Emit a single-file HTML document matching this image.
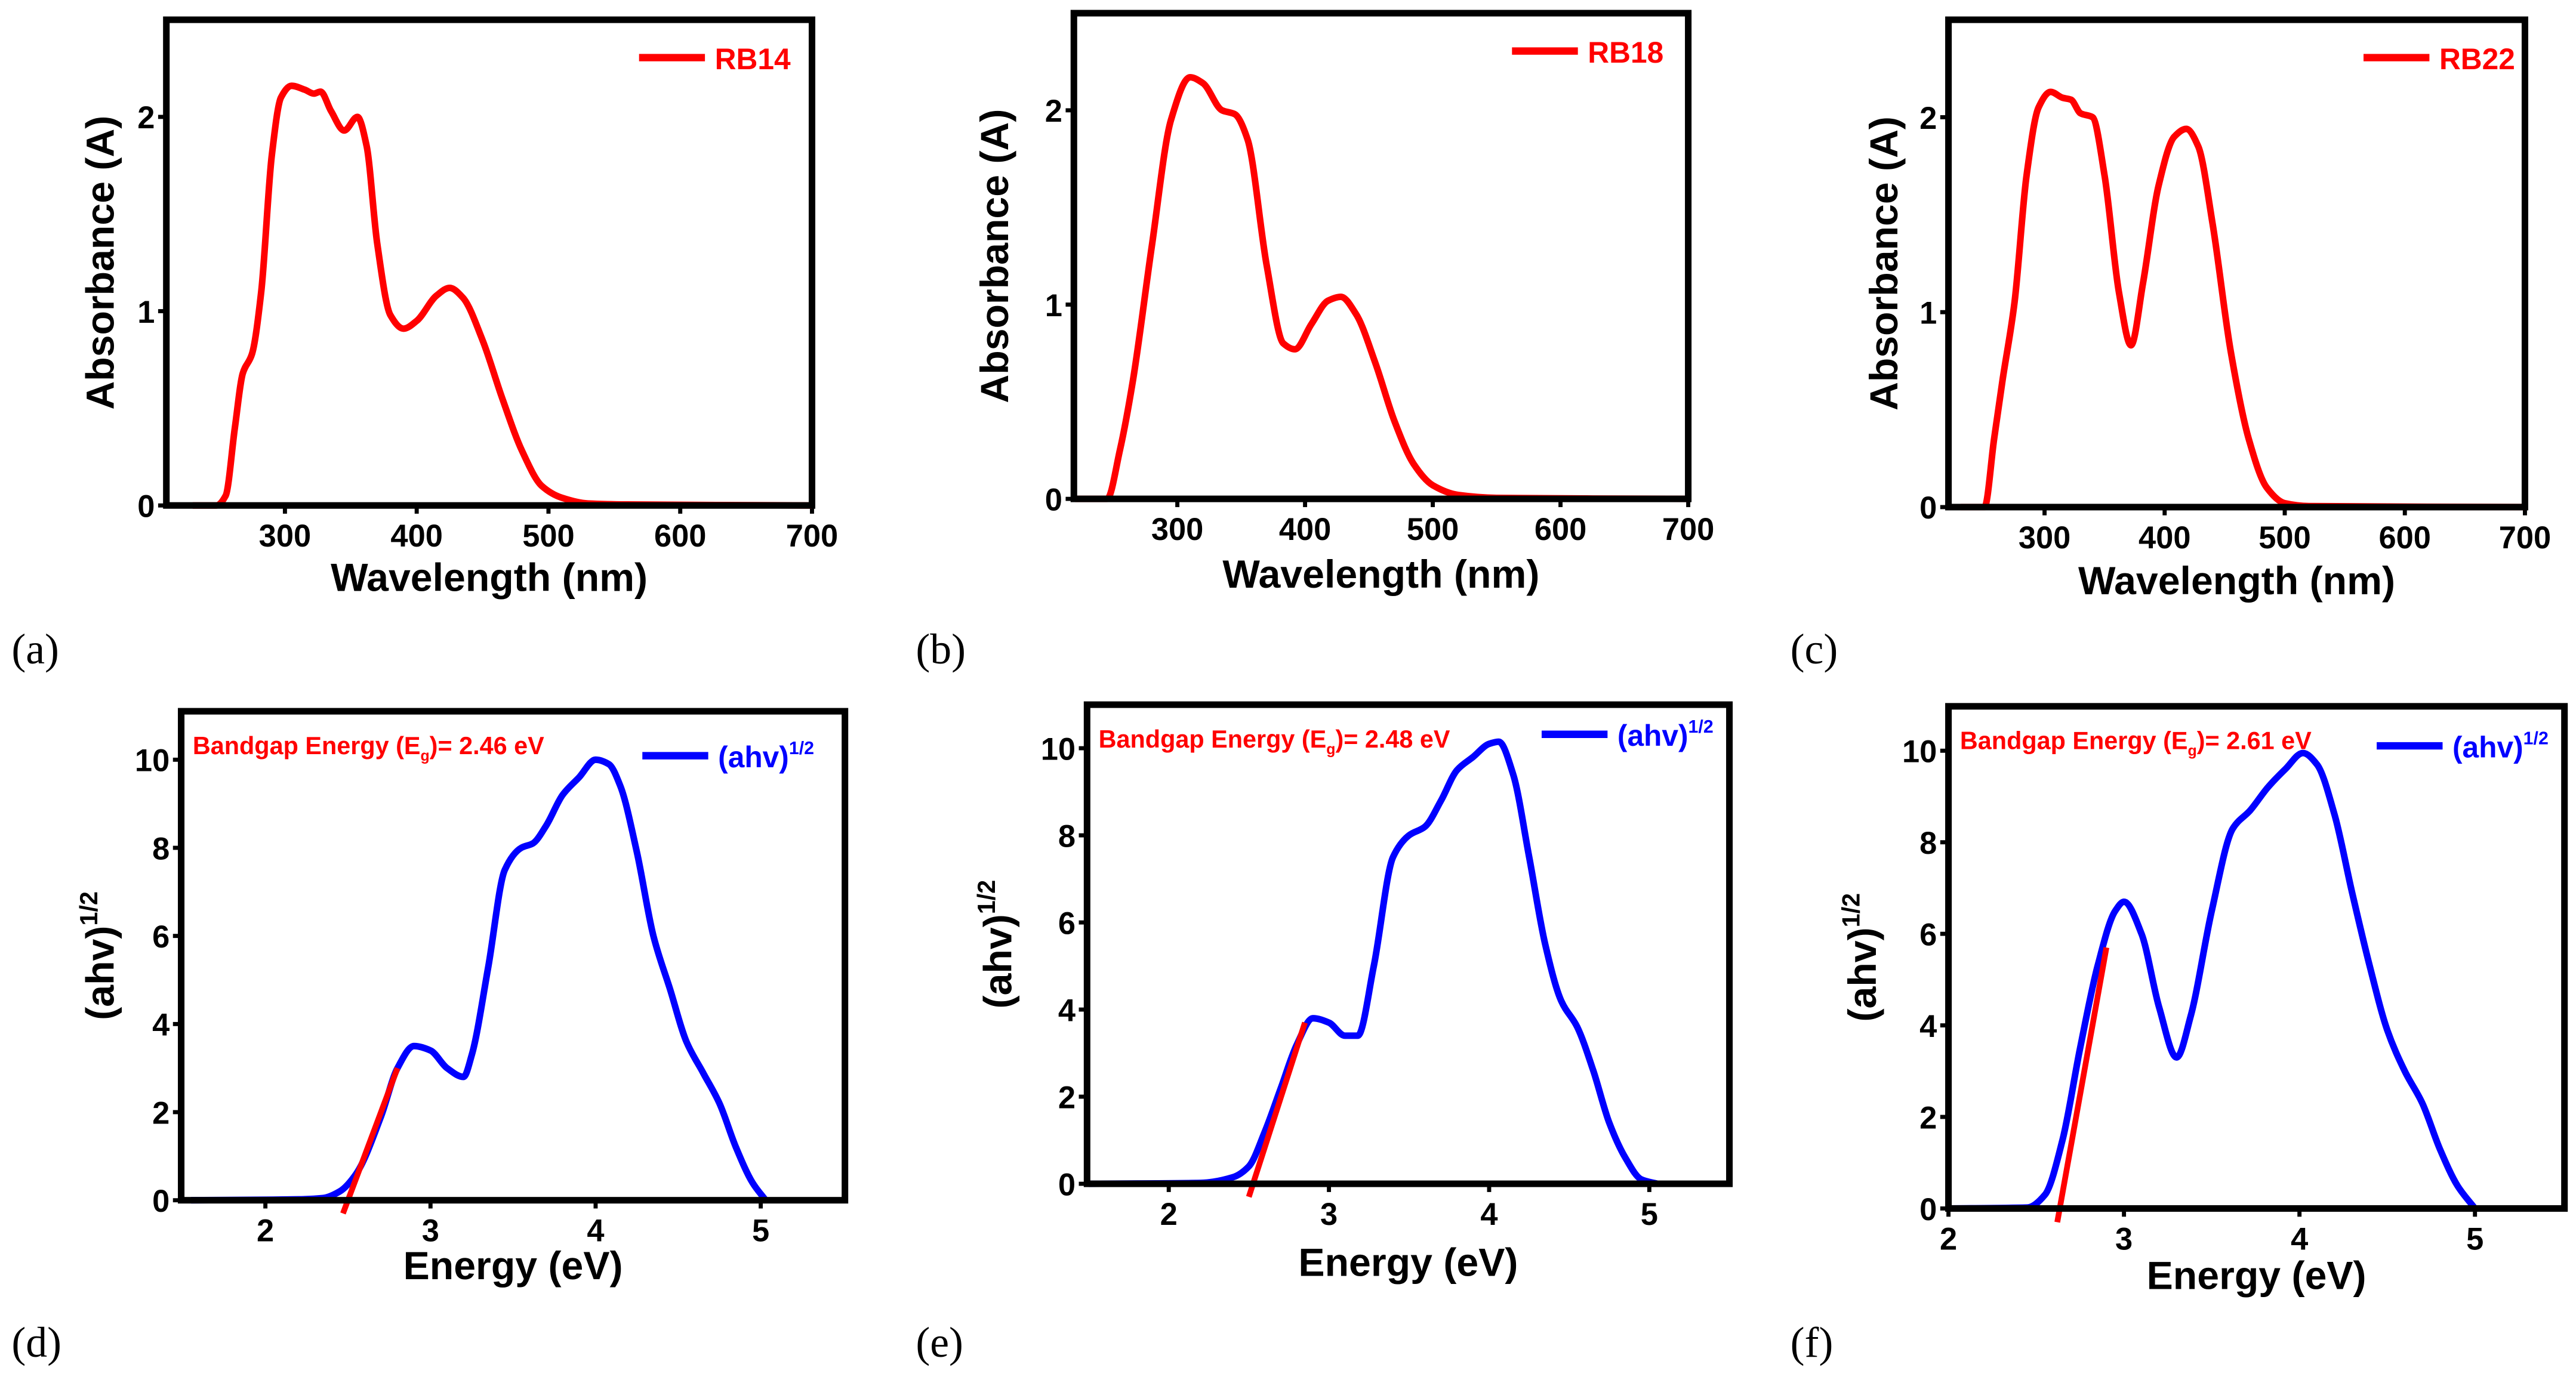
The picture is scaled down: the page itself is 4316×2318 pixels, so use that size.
<!DOCTYPE html>
<html><head><meta charset="utf-8"><style>
html,body{margin:0;padding:0;background:#fff;}
svg{display:block;}
text{font-family:"Liberation Sans",Arial,sans-serif;font-weight:bold;}
</style></head><body>
<svg id="fig" width="4316" height="2318" viewBox="0 0 1564 840" preserveAspectRatio="none" xmlns="http://www.w3.org/2000/svg"></svg>
<script>
// ---- data ----
const absA_x=[230,248,255,262,268,275,282,290,297,305,315,322,327,335,345,355,362,370,380,390,400,415,425,435,450,465,480,495,510,530,560,700];
const absA_y=[0,0,0.05,0.4,0.68,0.78,1.1,1.8,2.1,2.16,2.14,2.12,2.13,2.03,1.93,2.0,1.85,1.35,0.98,0.91,0.95,1.08,1.12,1.07,0.85,0.55,0.28,0.1,0.04,0.01,0.005,0];
const absB_x=[220,245,255,265,280,295,310,320,335,345,355,370,383,392,405,418,428,440,455,470,485,500,520,550,700];
const absB_y=[0,0,0.25,0.6,1.3,1.95,2.17,2.14,2.0,1.98,1.85,1.2,0.8,0.77,0.9,1.02,1.04,0.95,0.7,0.4,0.18,0.07,0.02,0.005,0];
const absC_x=[230,250,258,265,275,285,295,305,315,322,330,340,350,362,372,382,395,408,418,428,440,455,470,485,500,520,700];
const absC_y=[0,0,0.35,0.65,1.05,1.7,2.05,2.13,2.1,2.09,2.02,2.0,1.7,1.1,0.83,1.15,1.65,1.9,1.94,1.85,1.45,0.8,0.35,0.1,0.02,0.005,0];
const tauD_x=[1.55,2.2,2.35,2.45,2.55,2.7,2.8,2.9,3.0,3.1,3.2,3.25,3.35,3.45,3.55,3.62,3.7,3.8,3.9,4.0,4.08,4.15,4.25,4.35,4.45,4.55,4.65,4.75,4.85,4.95,5.03];
const tauD_y=[0,0.02,0.05,0.2,0.6,1.9,3.0,3.5,3.4,3.0,2.8,3.3,5.3,7.5,8.0,8.1,8.5,9.2,9.6,10.0,9.9,9.4,7.9,6.0,4.8,3.6,2.9,2.2,1.2,0.4,0];
const tauE_x=[1.5,2.2,2.4,2.5,2.6,2.7,2.8,2.9,3.0,3.1,3.18,3.28,3.4,3.5,3.6,3.7,3.8,3.9,4.0,4.06,4.15,4.25,4.35,4.45,4.55,4.65,4.75,4.85,4.95,5.05];
const tauE_y=[0,0.02,0.15,0.4,1.2,2.2,3.2,3.8,3.7,3.4,3.4,5.0,7.5,8.0,8.2,8.8,9.5,9.8,10.1,10.15,9.4,7.5,5.5,4.2,3.6,2.6,1.4,0.6,0.1,0];
const tauF_x=[2.0,2.45,2.55,2.65,2.75,2.85,2.95,3.0,3.1,3.2,3.3,3.38,3.5,3.62,3.72,3.82,3.92,4.02,4.1,4.2,4.3,4.4,4.5,4.6,4.7,4.8,4.9,5.0];
const tauF_y=[0,0.02,0.3,1.5,3.5,5.3,6.5,6.7,6.0,4.4,3.3,4.2,6.5,8.3,8.7,9.2,9.6,9.95,9.7,8.6,6.9,5.3,3.9,3.0,2.3,1.3,0.5,0];
const fitD_x=[2.47,2.8], fitD_y=[-0.3,3.0];
const fitE_x=[2.5,2.85], fitE_y=[-0.3,3.7];
const fitF_x=[2.62,2.9], fitF_y=[-0.3,5.7];
const absTicksX=[300,400,500,600,700], absTicksY=[0,1,2];
const tauTicksX=[2,3,4,5], tauTicksY=[0,2,4,6,8,10];
const labelsABS=["RB14","RB18","RB22"];
const bandgaps=["2.46","2.48","2.61"];
const panelLetters=["(a)","(b)","(c)","(d)","(e)","(f)"];

const NS="http://www.w3.org/2000/svg";
const svg=document.getElementById('fig');
function el(tag,attrs,parent,txt){const e=document.createElementNS(NS,tag);for(const k in attrs)e.setAttribute(k,attrs[k]);if(txt!==undefined)e.textContent=txt;(parent||svg).appendChild(e);return e;}
// monotone cubic (Fritsch-Carlson) in pixel space
function smooth(pts){const n=pts.length;const d=[],m=[];
  for(let i=0;i<n-1;i++){d.push((pts[i+1][1]-pts[i][1])/(pts[i+1][0]-pts[i][0]));}
  m[0]=d[0];m[n-1]=d[n-2];
  for(let i=1;i<n-1;i++){if(d[i-1]*d[i]<=0)m[i]=0;else{const h0=pts[i][0]-pts[i-1][0],h1=pts[i+1][0]-pts[i][0];const w1=2*h1+h0,w2=h1+2*h0;m[i]=(w1+w2)/(w1/d[i-1]+w2/d[i]);}}
  let s="M"+pts[0][0].toFixed(2)+","+pts[0][1].toFixed(2);
  for(let i=0;i<n-1;i++){const h=(pts[i+1][0]-pts[i][0])/3;
    s+=" C"+(pts[i][0]+h).toFixed(2)+","+(pts[i][1]+m[i]*h).toFixed(2)+" "+(pts[i+1][0]-h).toFixed(2)+","+(pts[i+1][1]-m[i+1]*h).toFixed(2)+" "+pts[i+1][0].toFixed(2)+","+pts[i+1][1].toFixed(2);}
  return s;}

function panel(cfg){
  const g=el('g',{});
  
  
  const sx=v=>cfg.L+(v-cfg.xmin)/(cfg.xmax-cfg.xmin)*(cfg.R-cfg.L);
  const sy=v=>cfg.B-(v-cfg.ymin)/(cfg.ymax-cfg.ymin)*(cfg.B-cfg.T);
  cfg.xt.forEach(t=>{const x=sx(t);const l=el('line',{x1:x,x2:x,y1:cfg.B,y2:cfg.B+5,stroke:'#000','stroke-width':2.5},g);
    
    const tx=el('text',{x:x,y:cfg.B+25,'font-size':19,'text-anchor':'middle'},g,t);
    });
  cfg.yt.forEach(t=>{const y=sy(t);const l=el('line',{x1:cfg.L-5,x2:cfg.L,y1:y,y2:y,stroke:'#000','stroke-width':2.5},g);
    
    const tx=el('text',{x:cfg.L-7,y:y+7,'font-size':19,'text-anchor':'end'},g,t);
    });
  const cid='c'+cfg.name;const cp=el('clipPath',{id:cid},g);el('rect',{x:cfg.L,y:cfg.T,width:cfg.R-cfg.L,height:cfg.B-cfg.T+12},cp);
  const p=el('path',{d:smooth(cfg.xs.map((v,i)=>[sx(v),sy(cfg.ys[i])])),fill:'none',stroke:cfg.color,'stroke-width':4,'stroke-linejoin':'round','clip-path':'url(#'+cid+')'},g);
  
  if(cfg.fx){const f=el('line',{x1:sx(cfg.fx[0]),y1:sy(cfg.fy[0]),x2:sx(cfg.fx[1]),y2:sy(cfg.fy[1]),stroke:'#f00','stroke-width':3.5},g);
    }
  const box=el('rect',{x:cfg.L,y:cfg.T,width:cfg.R-cfg.L,height:cfg.B-cfg.T,fill:'none',stroke:'#000','stroke-width':4},g);
  
  const lg=el('line',{x1:cfg.lgx,x2:cfg.lgx+40,y1:cfg.lgy,y2:cfg.lgy,stroke:cfg.color,'stroke-width':4.5},g);
  
  const lt=el('text',{x:cfg.lgx+46,y:cfg.lgy+7,'font-size':18,fill:cfg.color},g);
  
  if(cfg.kind==='abs'){lt.textContent=cfg.leg;}
  else{el('tspan',{},lt,'(ahv)');el('tspan',{dy:-8,'font-size':11},lt,'1/2');}
  const xtitle=el('text',{x:(cfg.L+cfg.R)/2,y:cfg.xly,'font-size':24,'text-anchor':'middle'},g,cfg.kind==='abs'?'Wavelength (nm)':'Energy (eV)');
  
  const yc=(cfg.T+cfg.B)/2;
  const yt=el('text',{x:0,y:0,'font-size':24,'text-anchor':'middle',transform:'translate('+cfg.ylx+','+yc+') rotate(-90)'},g);
  
  if(cfg.kind==='abs')yt.textContent='Absorbance (A)';
  else{el('tspan',{},yt,'(ahv)');el('tspan',{dy:-10,'font-size':15},yt,'1/2');}
  if(cfg.bg){const b=el('text',{x:cfg.L+7,y:cfg.T+26,'font-size':15,fill:'#f00'},g);
    
    el('tspan',{},b,'Bandgap Energy (E');el('tspan',{dy:4,'font-size':9},b,'g');el('tspan',{dy:-4},b,')= '+cfg.bg+' eV');}
  const pl=el('text',{x:cfg.plx,y:cfg.ply,'font-size':26,style:'font-family:"Liberation Serif",serif;font-weight:normal'},g,cfg.letter);
  
}
const A={kind:'abs',color:'#f00',xt:absTicksX,yt:absTicksY,ymin:0,ymax:2.5};
panel(Object.assign({},A,{name:'panel-a',L:101,R:493,T:12,B:307,xmin:210,xmax:700,xs:absA_x,ys:absA_y,lgx:388,lgy:35,leg:labelsABS[0],xly:359,ylx:69,plx:7,ply:403,letter:panelLetters[0]}));
panel(Object.assign({},A,{name:'panel-b',L:652,R:1025,T:8,B:303,xmin:219,xmax:700,xs:absB_x,ys:absB_y,lgx:918,lgy:31,leg:labelsABS[1],xly:357,ylx:612,plx:556,ply:403,letter:panelLetters[1]}));
panel(Object.assign({},A,{name:'panel-c',L:1183,R:1533,T:12,B:308,xmin:220,xmax:700,xs:absC_x,ys:absC_y,lgx:1435,lgy:35,leg:labelsABS[2],xly:361,ylx:1152,plx:1087,ply:403,letter:panelLetters[2]}));
const T={kind:'tau',color:'#00f',yt:tauTicksY,ymin:0};
panel(Object.assign({},T,{name:'panel-d',L:110,R:513,T:432,B:729,xmin:1.49,xmax:5.51,ymax:11.1,xt:tauTicksX,xs:tauD_x,ys:tauD_y,fx:fitD_x,fy:fitD_y,lgx:390,lgy:459,xly:777,ylx:69,plx:7,ply:824,letter:panelLetters[3],bg:bandgaps[0]}));
panel(Object.assign({},T,{name:'panel-e',L:660,R:1050,T:428,B:719,xmin:1.49,xmax:5.5,ymax:11,xt:tauTicksX,xs:tauE_x,ys:tauE_y,fx:fitE_x,fy:fitE_y,lgx:936,lgy:446,xly:775,ylx:614,plx:556,ply:824,letter:panelLetters[4],bg:bandgaps[1]}));
panel(Object.assign({},T,{name:'panel-f',L:1183,R:1557,T:429,B:734,xmin:2.0,xmax:5.51,ymax:10.97,xt:tauTicksX,xs:tauF_x,ys:tauF_y,fx:fitF_x,fy:fitF_y,lgx:1443,lgy:453,xly:783,ylx:1139,plx:1087,ply:824,letter:panelLetters[5],bg:bandgaps[2]}));
</script>
</body></html>
